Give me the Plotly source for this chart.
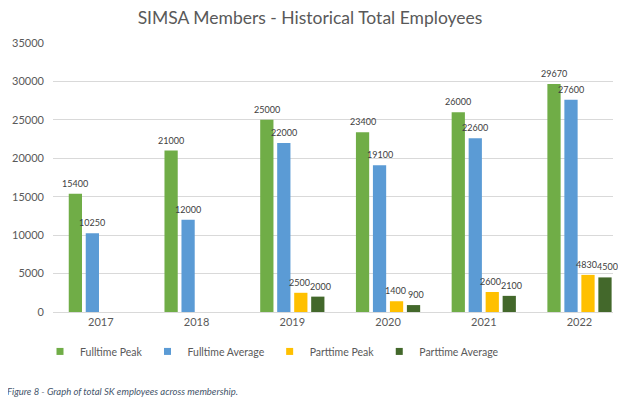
import plotly.graph_objects as go

years = ["2017", "2018", "2019", "2020", "2021", "2022"]
fulltime_peak = [15400, 21000, 25000, 23400, 26000, 29670]
fulltime_avg = [10250, 12000, 22000, 19100, 22600, 27600]
parttime_peak = [None, None, 2500, 1400, 2600, 4830]
parttime_avg = [None, None, 2000, 900, 2100, 4500]

series = [
    ("Fulltime Peak", fulltime_peak, "#70AD47"),
    ("Fulltime Average", fulltime_avg, "#5B9BD5"),
    ("Parttime Peak", parttime_peak, "#FFC000"),
    ("Parttime Average", parttime_avg, "#43682B"),
]
# extra horizontal nudge (px) of the value labels, to keep neighbours apart
label_nudge = [0, 0, -1.5, 2.5]

FONT = "Lato"
OFF = 8  # page offset of the figure inside the browser window
W, H = 626 - OFF, 399 - OFF
ml, mt, mr = 53 - OFF, 43 - OFF, 13
bottom = 312.5 - OFF
mb = H - bottom
ph = bottom - mt
pw = W - ml - mr
XRANGE = [-0.5, 5.35]
BARGAP, GROUPGAP = 0.29, 0.22

cat_px = pw / (XRANGE[1] - XRANGE[0])
slot = cat_px * (1 - BARGAP) / len(series)

fig = go.Figure()
for i, (name, vals, col) in enumerate(series):
    fig.add_trace(go.Bar(
        name=name, x=years, y=vals, marker_color=col, marker_line_width=0,
        showlegend=False,
    ))
    shift = (i - (len(series) - 1) / 2) * slot + label_nudge[i]
    for j, v in enumerate(vals):
        if v is None:
            continue
        fig.add_annotation(
            x=j, y=v, xref="x", yref="y", text=str(v), showarrow=False,
            xanchor="center", yanchor="bottom", xshift=shift, yshift=3,
            font=dict(family=FONT, size=9, color="#404040"),
        )
for name, vals, col in series:
    fig.add_trace(go.Scatter(
        name=name, x=[None], y=[None], mode="markers",
        marker=dict(symbol="square", size=7, color=col), showlegend=True,
    ))


def py(page_y):
    return (bottom - (page_y - OFF)) / ph


def px(page_x):
    return (page_x - OFF - ml) / pw


fig.update_layout(
    width=W, height=H,
    margin=dict(l=ml, r=mr, t=mt, b=mb, autoexpand=False),
    paper_bgcolor="white", plot_bgcolor="white",
    barmode="group", bargap=BARGAP, bargroupgap=GROUPGAP,
    title=dict(text="SIMSA Members - Historical Total Employees",
               x=(310 - OFF) / W, xanchor="center", y=1 - (18 - OFF) / H, yanchor="middle",
               font=dict(family=FONT, size=17.5, color="#595959")),
    font=dict(family=FONT, color="#595959"),
    legend=dict(orientation="h", x=px(272), xanchor="center",
                y=py(352), yanchor="middle",
                font=dict(family=FONT, size=10.5, color="#595959"),
                itemwidth=30, traceorder="normal", tracegroupgap=0),
    showlegend=True,
    xaxis=dict(type="category", categoryorder="array", categoryarray=years,
               range=XRANGE, showgrid=False, showline=True,
               linecolor="#D9D9D9", ticks="", tickfont=dict(size=11, color="#595959")),
    yaxis=dict(range=[0, 35000], dtick=5000, tickformat="d", showgrid=True,
               gridcolor="#D9D9D9", zeroline=False, showline=False, ticks="",
               tickfont=dict(size=11, color="#595959"), ticklabelstandoff=8),
)
fig.add_annotation(
    text="<i>Figure 8 - Graph of total SK employees across membership.</i>",
    xref="paper", yref="paper", x=px(5), y=py(392),
    xanchor="left", yanchor="middle", showarrow=False,
    font=dict(family=FONT, size=9.5, color="#44546A"),
)
fig.write_html("out.html")
